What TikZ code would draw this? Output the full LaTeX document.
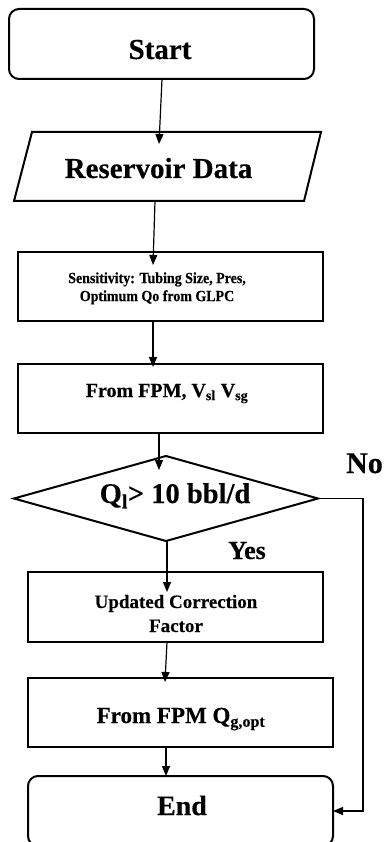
\documentclass[tikz,border=0pt]{standalone}
\usepackage{fontspec}
\setmainfont{Liberation Serif}[BoldFeatures={FakeBold=0.4}]
\usetikzlibrary{arrows.meta}

\tikzset{
  box/.style={draw, rectangle, line width=2pt, inner sep=0pt, outer sep=0pt},
  roundbox/.style={box, rounded corners=10pt},
  frame/.style={rectangle, inner sep=0pt, outer sep=0pt},
  outline/.style={line width=2pt, line join=miter},
  txt/.style={inner sep=0pt, outer sep=0pt, align=center},
  flow/.style={line width=1.2pt, -{Triangle[length=10pt,width=8pt]}},
}

\begin{document}
\begin{tikzpicture}[x=1pt,y=-1pt]
\useasboundingbox (0,0) rectangle (383,842);
\clip (0,0) rectangle (383,842);

% process boxes
\node[roundbox, minimum width=305pt, minimum height=70pt] (start) at (161.5,44) {};
\node[frame, minimum width=307pt, minimum height=69pt] (res) at (167.5,166.5) {};
\draw[outline] ([xshift=18pt]res.north west) -- (res.north east)
  -- ([xshift=-17pt]res.south east) -- (res.south west) -- cycle;
\node[box, minimum width=305pt, minimum height=69pt] (sens) at (170.5,286.5) {};
\node[box, minimum width=305pt, minimum height=69pt] (fpm) at (170.5,398.5) {};
\node[frame, minimum width=304pt, minimum height=85pt] (dec) at (166,498.5) {};
\draw[outline] (dec.north) -- (dec.east) -- (dec.south) -- (dec.west) -- cycle;
\node[box, minimum width=295pt, minimum height=70pt] (upd) at (175.5,607) {};
\node[box, minimum width=305pt, minimum height=69pt] (fpmq) at (180.5,712.5) {};
\node[roundbox, minimum width=305pt, minimum height=70pt] (end) at (180.5,811) {};

% texts
\node[txt, anchor=base, font=\bfseries\fontsize{29}{34}\selectfont] (tstart) at (160,59) {Start};
\node[txt, anchor=base, font=\bfseries\fontsize{29}{34}\selectfont] (tres) at (158.5,178) {Reservoir Data};
\node[txt, font=\bfseries\fontsize{15.5}{18}\selectfont] (tsens) at (157,288.5)
  {\scalebox{0.9}[1]{\begin{tabular}{@{}c@{}}Sensitivity: Tubing Size, Pres,\\Optimum Qo from GLPC\end{tabular}}};
\node[txt, anchor=base, font=\bfseries\fontsize{20}{24}\selectfont] (tfpm) at (167,397)
  {From FPM, V\textsubscript{sl} V\textsubscript{sg}};
\node[txt, anchor=base, font=\bfseries\fontsize{28.5}{34}\selectfont] (tdec) at (175,503)
  {Q\textsubscript{l}> 10 bbl/d};
\node[txt, anchor=base, font=\bfseries\fontsize{26}{31}\selectfont] (tyes) at (247,559) {Yes};
\node[txt, anchor=base, font=\bfseries\fontsize{30}{36}\selectfont] (tno) at (364.5,473) {No};
\node[txt, font=\bfseries\fontsize{19}{24}\selectfont] (tupd) at (176,613.5)
  {Updated Correction\\Factor};
\node[txt, anchor=base, font=\bfseries\fontsize{23}{27}\selectfont] (tfpmq) at (181,723)
  {From FPM Q\textsubscript{g,opt}};
\node[txt, anchor=base, font=\bfseries\fontsize{28}{34}\selectfont] (tend) at (182,815) {End};

% connectors
\draw[flow] ([xshift=0.5pt]start.south) -- ([xshift=-8.5pt,yshift=-12pt]res.north);
\draw[flow] ([xshift=-12.5pt]res.south) -- ([xshift=-17.5pt,yshift=-13pt]sens.north);
\draw[flow] ([xshift=-17.5pt]sens.south) -- ([xshift=-17.5pt,yshift=-3pt]fpm.north);
\draw[flow] ([xshift=-11.5pt]fpm.south) -- ([xshift=-7pt,yshift=-14pt]dec.north);
\draw[flow] ([xshift=1pt]dec.south) -- ([xshift=-8.5pt,yshift=-20pt]upd.north);
\draw[flow] ([xshift=-8.5pt]upd.south) -- ([xshift=-15.5pt,yshift=-4pt]fpmq.north);
\draw[flow] ([xshift=-14.5pt]fpmq.south) -- ([xshift=-14.5pt]end.north);
\coordinate (noturn) at (363,498.5);
\draw[flow] (dec.east) -- (noturn) |- (end.east);
\end{tikzpicture}
\end{document}
